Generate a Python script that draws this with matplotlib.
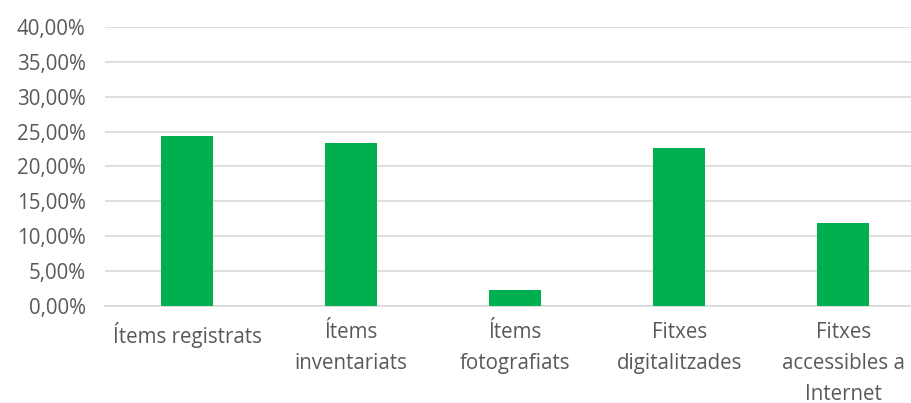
import matplotlib.pyplot as plt
from matplotlib.ticker import FuncFormatter

# Data
categories = ['Ítems registrats', 'Ítems\ninventariats', 'Ítems\nfotografiats',
              'Fitxes\ndigitalitzades', 'Fitxes\naccessibles a\nInternet']
values = [24.4, 23.4, 2.3, 22.6, 11.9]
yticks = [0, 5, 10, 15, 20, 25, 30, 35, 40]

plt.rcParams['font.family'] = ['Open Sans', 'DejaVu Sans']

fig = plt.figure(figsize=(9.12, 4.03), dpi=100)
ax = fig.add_axes([105 / 912, 97.3 / 403, 1 - 105 / 912, 278.7 / 403])

x = range(len(categories))
ax.bar(x, values, width=0.317, color='#00b050', zorder=3)

ax.set_ylim(0, 40)
ax.set_xlim(-0.5, 4.42)
ax.set_yticks(yticks)
ax.yaxis.set_major_formatter(FuncFormatter(lambda v, p: f'{v:.2f}'.replace('.', ',') + '%'))
ax.set_xticks(list(x))
ax.set_xticklabels(categories, linespacing=1.6, va='top')

ax.grid(axis='y', color='#d9d9d9', linewidth=1.2, zorder=0)
for s in ['top', 'right', 'left']:
    ax.spines[s].set_visible(False)
ax.spines['bottom'].set_color('#d9d9d9')
ax.spines['bottom'].set_linewidth(1.2)

ax.tick_params(axis='both', length=0, labelsize=14.8, colors='#595959')
ax.tick_params(axis='y', pad=14)
ax.tick_params(axis='x', pad=12)

fig.savefig('out.png', dpi=100)
